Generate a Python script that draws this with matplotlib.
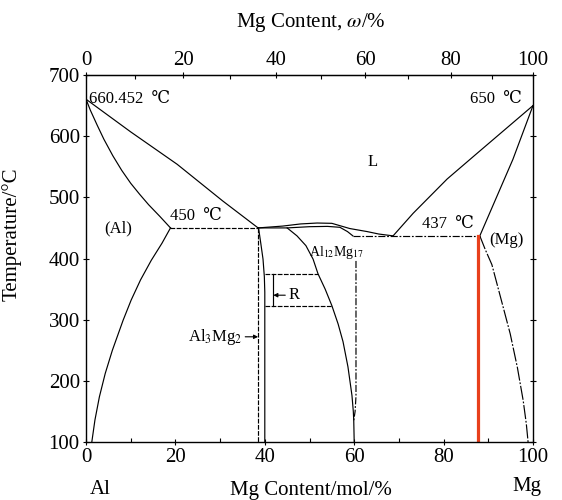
"""
Al-Mg binary phase diagram, mol% on the bottom axis and wt% on the top axis.
"""
import numpy as np
import matplotlib
matplotlib.use('Agg')
import matplotlib.pyplot as plt

plt.rcParams['font.family'] = ['Liberation Serif', 'DejaVu Serif', 'DejaVu Sans']
plt.rcParams['mathtext.fontset'] = 'stix'

# --- phase boundaries (x = Mg mol%, t = temperature in C) ---
liq_al_x = [0, 10, 20.4, 30.6, 38.5]
liq_al_t = [660.452, 607, 554, 494, 450]

sol_al_x = [0, 1, 2.5, 4, 6, 8, 10, 12, 14, 16.5, 18.9]
sol_al_t = [660.452, 642, 618, 595, 568, 544, 523, 505, 488, 469, 450]

solvus_al_x = [18.9, 17.0, 14.6, 12.2, 10.1, 8.3, 5.9, 4.3, 3.0, 2.0, 1.3]
solvus_al_t = [450, 425, 397, 365, 332, 299, 250, 212, 174, 136, 100]

eut1_x = [18.9, 38.5]          # 450 C eutectic
eut1_t = [450, 450]

al3mg2_left_x = [38.5, 38.5]
al3mg2_left_t = [450, 100]
al3mg2_right_x = [38.6, 39.1, 39.6, 39.9, 40.0, 40.0]
al3mg2_right_t = [450, 425, 399, 370, 345, 100]

dome_up_x = [38.5, 44, 48, 51.7, 55, 59, 62.9, 65.5, 68.7]
dome_up_t = [450, 453, 456.5, 458, 457.5, 449, 444, 440, 437]
dome_low_x = [38.5, 45, 50, 54, 56.8, 58.5, 59.7]
dome_low_t = [450, 450, 452, 452.5, 451, 444, 437]

al12_left_x = [45.0, 47.2, 49.2, 50.8, 51.9, 53.5, 55.0, 56.4, 57.5, 58.6, 59.5, 59.8, 59.9, 60.0]
al12_left_t = [450, 437, 421, 399, 375, 350, 323, 293, 264, 223, 176, 150, 135, 100]
al12_right_x = [60.4, 60.4, 60.2, 59.9]
al12_right_t = [396, 175, 150, 135]

r_x_left = 40.0
r_x_bar = 41.9
r_t_top = 374
r_t_bot = 322

eut2_x = [59.7, 88.1]          # 437 C eutectic
eut2_t = [437, 437]

liq_mg_x = [68.7, 73.2, 80.8, 87.5, 100]
liq_mg_t = [437, 474, 530, 572, 650]
sol_mg_x = [88.1, 95.5, 100]
sol_mg_t = [437, 562, 650]
solvus_mg_x = [88.1, 89.3, 90.8, 92.8, 94.9, 96.5, 97.8, 98.5, 98.9]
solvus_mg_t = [437, 415, 390, 335, 277, 222, 168, 130, 100]

red_x = 87.8
red_t = [437, 100]

x_ticks = [0, 20, 40, 60, 80, 100]
y_ticks = [100, 200, 300, 400, 500, 600, 700]
wt_ticks = [0, 20, 40, 60, 80, 100]

M_MG = 24.305
M_AL = 26.982


def mol_to_wt(m):
    m = np.clip(np.asarray(m, dtype=float), 0, 100)
    return 100 * m * M_MG / (m * M_MG + (100 - m) * M_AL)


def wt_to_mol(w):
    w = np.clip(np.asarray(w, dtype=float), 0, 100)
    return 100 * (w / M_MG) / (w / M_MG + (100 - w) / M_AL)


fig = plt.figure(figsize=(5.62, 5.0), dpi=100)
ax = fig.add_axes([86 / 562, 58 / 500, 447 / 562, 367 / 500])

lw = 0.85
k = 'black'
dash = (0, (4, 1.2))
dashdot = (0, (6, 1.5, 1.5, 1.5))

ax.plot(liq_al_x, liq_al_t, color=k, lw=lw)
ax.plot(sol_al_x, sol_al_t, color=k, lw=lw)
ax.plot(solvus_al_x, solvus_al_t, color=k, lw=lw)
ax.plot(eut1_x, eut1_t, color=k, lw=lw, ls=dash)

ax.plot(al3mg2_left_x, al3mg2_left_t, color=k, lw=lw, ls=dash)
ax.plot(al3mg2_right_x, al3mg2_right_t, color=k, lw=lw)

ax.plot(dome_up_x, dome_up_t, color=k, lw=lw)
ax.plot(dome_low_x, dome_low_t, color=k, lw=lw)
ax.plot(al12_left_x, al12_left_t, color=k, lw=lw)
ax.plot(al12_right_x, al12_right_t, color=k, lw=lw, ls=dashdot)

# R phase box, closed on the right by the Al12Mg17 boundary
bx = np.interp([r_t_top, r_t_bot], al12_left_t[::-1], al12_left_x[::-1])
ax.plot([r_x_left, bx[0]], [r_t_top, r_t_top], color=k, lw=lw, ls=dash)
ax.plot([r_x_left, bx[1]], [r_t_bot, r_t_bot], color=k, lw=lw, ls=dash)
ax.plot([r_x_bar, r_x_bar], [r_t_top, r_t_bot], color=k, lw=lw)

ax.plot(eut2_x, eut2_t, color=k, lw=lw, ls=dashdot)
ax.plot(liq_mg_x, liq_mg_t, color=k, lw=lw)
ax.plot(sol_mg_x, sol_mg_t, color=k, lw=lw)
ax.plot(solvus_mg_x, solvus_mg_t, color=k, lw=lw, ls=(0, (12, 1.5, 1.5, 1.5)))

ax.plot([red_x, red_x], red_t, color='#e8401c', lw=2.3)

# --- labels inside the diagram ---
fs = 12
ax.text(0.6, 660, '660.452  ℃', fontsize=fs, ha='left', va='center')
ax.text(97.6, 660, '650  ℃', fontsize=fs, ha='right', va='center')
ax.text(18.7, 470, '450  ℃', fontsize=fs, ha='left', va='center')
ax.text(75.2, 456, '437  ℃', fontsize=fs, ha='left', va='center')
ax.text(7.2, 450, '(Al)', fontsize=fs, ha='center', va='center')
ax.text(94.1, 431, '(Mg)', fontsize=fs, ha='center', va='center')
ax.text(64.2, 557, 'L', fontsize=fs, ha='center', va='center')
ax.text(56.0, 410, r'Al$_{12}$Mg$_{17}$', fontsize=10, ha='center', va='center')
ax.annotate('R', xy=(r_x_bar, 340), xytext=(45.2, 340), fontsize=fs,
            ha='left', va='center',
            arrowprops=dict(arrowstyle='-|>', color=k, lw=0.8, mutation_scale=6,
                            shrinkA=0, shrinkB=0))
ax.annotate(r'Al$_{3}$Mg$_{2}$', xy=(38.5, 272), xytext=(35.0, 272), fontsize=fs,
            ha='right', va='center',
            arrowprops=dict(arrowstyle='-|>', color=k, lw=0.8, mutation_scale=6,
                            shrinkA=0, shrinkB=0))

# --- axes ---
ax.set_xlim(0, 100)
ax.set_ylim(100, 700)
ax.set_xticks(x_ticks)
ax.set_xticks(np.arange(10, 100, 20), minor=True)
ax.set_yticks(y_ticks)
ax.tick_params(axis='both', which='major', direction='inout', length=5, width=0.8,
               labelsize=15, pad=2, right=True)
ax.tick_params(axis='x', which='minor', direction='in', length=3, width=0.8)
ax.set_ylabel('Temperature/°C', fontsize=15)
ax.yaxis.set_label_coords(-0.143, 0.567)
for sp in ax.spines.values():
    sp.set_linewidth(1.0)

top = ax.secondary_xaxis('top', functions=(mol_to_wt, wt_to_mol))
top.set_xticks(wt_ticks)
top.set_xticks(np.arange(10, 100, 20), minor=True)
top.tick_params(axis='x', which='major', direction='inout', length=5, width=0.8,
                labelsize=15, pad=1)
top.tick_params(axis='x', which='minor', direction='in', length=3, width=0.8)

fig.text(311 / 562, 1 - 22 / 500, r'Mg Content, $\omega$/%', fontsize=15,
         ha='center', va='center')
fig.text(311 / 562, 1 - 491 / 500, 'Mg Content/mol/%', fontsize=15,
         ha='center', va='center')
fig.text(100 / 562, 1 - 489 / 500, 'Al', fontsize=15, ha='center', va='center')
fig.text(527 / 562, 1 - 487 / 500, 'Mg', fontsize=15, ha='center', va='center')

fig.savefig('out.png', dpi=100)
